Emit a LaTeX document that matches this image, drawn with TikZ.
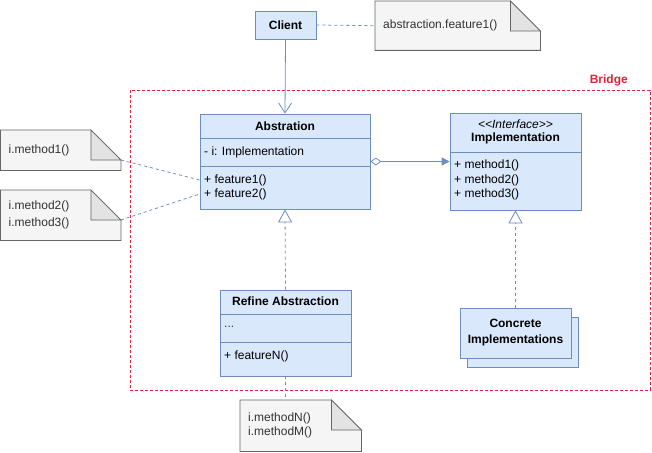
\documentclass[tikz,border=0pt]{standalone}
\usepackage{fontspec}
\setmainfont{Liberation Sans}
\usetikzlibrary{calc,arrows.meta,backgrounds}

\definecolor{clsfill}{HTML}{DAE8FC}
\definecolor{clsline}{HTML}{6C8EBF}
\definecolor{notefill}{HTML}{F5F5F5}
\definecolor{noteline}{HTML}{666666}
\definecolor{foldfill}{HTML}{E3E3E3}
\definecolor{notetext}{HTML}{333333}
\definecolor{bridgered}{HTML}{E3223A}

\tikzset{
  cls/.style={draw=clsline, fill=clsfill, line width=0.8pt, inner sep=0pt},
  ttl/.style={font=\fontsize{12}{14}\selectfont\bfseries, inner sep=0pt, align=center},
  attr/.style={font=\fontsize{12}{14.5}\selectfont, anchor=west, align=left, inner sep=0pt},
  note/.style={anchor=north west, align=left, inner xsep=8pt, inner ysep=0pt,
    text=notetext, font=\fontsize{12}{17}\selectfont},
  conn/.style={draw=clsline, line width=0.8pt},
  dashconn/.style={conn, dash pattern=on 3pt off 3pt},
}

% folded note outline behind a note node
\newcommand{\drawnote}[1]{%
  \begin{pgfonlayer}{background}
  \draw[noteline, fill=notefill, line width=0.8pt] (#1.south west) -- (#1.north west)
    -- ($(#1.north east)+(-30,0)$) -- ($(#1.north east)+(0,30)$) -- (#1.south east) -- cycle;
  \draw[noteline, fill=foldfill, line width=0.8pt] ($(#1.north east)+(-30,0)$)
    -- ($(#1.north east)+(-30,30)$) -- ($(#1.north east)+(0,30)$) -- cycle;
  \end{pgfonlayer}}

\begin{document}
\begin{tikzpicture}[x=1pt,y=-1pt]
\useasboundingbox (0,0) rectangle (652,452);

% bridge frame
\node[draw=bridgered, dash pattern=on 3pt off 2pt, line width=0.8pt, inner sep=0pt,
  minimum width=520pt, minimum height=300pt, anchor=north west] (bridge) at (130,90) {};
\node[font=\fontsize{12}{14}\selectfont\bfseries, text=bridgered, anchor=east, inner sep=0pt] (bridgelbl) at (628,80) {Bridge};

% client
\node[cls, ttl, draw=clsline, fill=clsfill, line width=0.8pt, minimum width=61pt, minimum height=28pt] (client) at (285.5,25) {Client};

% abstraction
\node[cls, minimum width=170pt, minimum height=95pt] (abs) at (285,161.5) {};
\draw[clsline, line width=0.8pt] (200,138) -- (370,138);
\draw[clsline, line width=0.8pt] (200,166) -- (370,166);
\node[ttl] (absname) at (285,126) {Abstration};
\node[attr] (absattr) at (204,152) {- i: Implementation};
\node[attr, font=\fontsize{12}{14}\selectfont] (absops) at (204,187) {+ feature1()\\+ feature2()};

% implementation
\node[cls, minimum width=131pt, minimum height=97pt] (impl) at (515.5,161.5) {};
\draw[clsline, line width=0.8pt] (450,152) -- (581,152);
\node[font=\fontsize{12}{14}\selectfont\itshape, inner sep=0pt] (implst) at (515.5,124) {<\kern0pt<Interface>\kern0pt>};
\node[ttl] (implname) at (515.5,138) {Implementation};
\node[attr] (implops) at (454,180) {+ method1()\\+ method2()\\+ method3()};

% refine abstraction
\node[cls, minimum width=131pt, minimum height=86pt] (refine) at (285.5,333) {};
\draw[clsline, line width=0.8pt] (220,314) -- (351,314);
\draw[clsline, line width=0.8pt] (220,342) -- (351,342);
\node[ttl] (refname) at (285.5,301) {Refine Abstraction};
\node[attr, text=notetext] (refattr) at (224,327) {...};
\node[attr] (refops) at (224,356) {+ featureN()};

% concrete implementations (stacked)
\node[cls, minimum width=111pt, minimum height=50pt] (concback) at (523,342) {};
\node[cls, ttl, font=\fontsize{12}{16}\selectfont\bfseries, minimum width=111pt, minimum height=50pt] (conc) at (515.5,333) {Concrete\\Implementations};

% notes
\node[note, text width=149pt, minimum height=49pt] (ntop) at (375,1) {abstraction.feature1()};
\drawnote{ntop}
\node[note, text width=104pt, minimum height=40pt] (n1) at (0.5,130) {i.method1()};
\drawnote{n1}
\node[note, text width=104pt, minimum height=50pt] (n2) at (0.5,190) {i.method2()\\i.method3()};
\drawnote{n2}
\node[note, font=\fontsize{12}{14}\selectfont, text width=105pt, minimum height=51pt] (nN) at (240,400) {i.methodN()\\i.methodM()};
\drawnote{nN}

% connectors
\draw[conn, -{Straight Barb[length=10pt, width=13pt]}] (client.south) -- (abs.north);
\draw[conn, {Diamond[open, fill=white, length=11pt, width=8pt]}-{Triangle[length=8pt, width=8pt]}] (abs.east) -- (impl.west);
\draw[dashconn, -{Triangle[open, fill=white, length=13pt, width=14pt]}] (refine.north) -- (abs.south);
\draw[dashconn, -{Triangle[open, fill=white, length=13pt, width=14pt]}] (conc.north) -- (impl.south);

% note links
\draw[dashconn] (client.east) -- (ntop.west);
\draw[dashconn] ($(n1.north east)+(0,30)$) -- ($(abs.west)+(0,18.5)$);
\draw[dashconn] ($(n2.north east)+(0,30)$) -- ($(abs.west)+(0,32.5)$);
\draw[dashconn] (refine.south) -- (refine.south |- nN.north);
\end{tikzpicture}
\end{document}
